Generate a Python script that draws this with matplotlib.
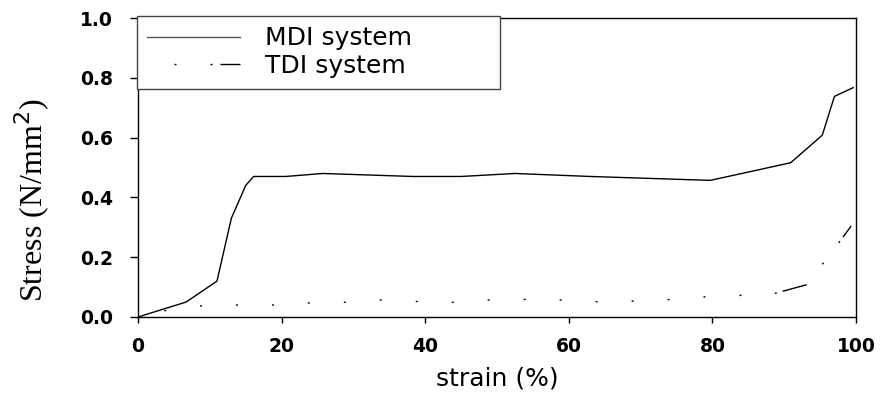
import matplotlib
matplotlib.use("Agg")
import matplotlib.pyplot as plt
from matplotlib.lines import Line2D

plt.rcParams['lines.scale_dashes'] = False

# ---- data ----
mdi_strain = [0, 6.7, 11, 13, 14, 15, 16.1, 20.6, 25.7, 38.3, 45, 52.5, 63, 79.7, 86, 90.9, 95.3, 97.0, 99.6]
mdi_stress = [0, 0.05, 0.12, 0.33, 0.385, 0.44, 0.47, 0.47, 0.48, 0.47, 0.47, 0.48, 0.47, 0.457, 0.49, 0.516, 0.608, 0.738, 0.767]

tdi_strain = [0, 3.7, 8.6, 13.6, 18.7, 23.7, 28.7, 33.7, 38.7, 43.7, 48.7, 53.7, 58.7, 63.7,
              68.7, 73.7, 78.7, 83.7, 88.7, 93.3, 95.4, 97.7, 99.5]
tdi_stress = [0, 0.021, 0.037, 0.040, 0.040, 0.047, 0.049, 0.057, 0.052, 0.049, 0.057, 0.059, 0.057, 0.051,
              0.053, 0.058, 0.067, 0.072, 0.079, 0.109, 0.179, 0.251, 0.31]

series_labels = ["MDI system", "TDI system"]
x_ticks = [0, 20, 40, 60, 80, 100]
y_ticks = [0.0, 0.2, 0.4, 0.6, 0.8, 1.0]

# ---- styles (dash lengths in pixels, converted to points) ----
PX = 0.72
dot_style = (9 * PX, [2 * PX, 34 * PX])                       # gap 27, dot, gap 34 ...
end_seq_px = [2, 6, 25, 26, 2, 25, 2, 5, 14, 40]
end_style = (0, [v * PX for v in end_seq_px])
leg_seq_px = [2, 34, 2, 8, 30, 27]
leg_style = ((sum(leg_seq_px) - 27) * PX, [v * PX for v in leg_seq_px])
split = 18  # the TDI curve changes dash rhythm after this point

fig = plt.figure(figsize=(8.85, 3.94), dpi=100)
ax = fig.add_axes([138/885, 1-317/394, 718/885, 299/394])

ax.plot(mdi_strain, mdi_stress, color='black', lw=1.0)
ax.plot(tdi_strain[:split + 1], tdi_stress[:split + 1], color='black', lw=1.0, linestyle=dot_style)
ax.plot(tdi_strain[split:], tdi_stress[split:], color='black', lw=1.0, linestyle=end_style)

ax.set_xlim(0, 100)
ax.set_ylim(0, 1.0)
ax.set_xticks(x_ticks)
ax.set_yticks(y_ticks)
ax.set_xticklabels([str(v) for v in x_ticks])
ax.set_yticklabels([f"{v:.1f}" for v in y_ticks])
ax.tick_params(axis='y', direction='out', length=5.8, width=1.0, pad=12)
ax.tick_params(axis='x', direction='out', length=4.3, width=1.0, pad=10)
for lab in ax.get_xticklabels() + ax.get_yticklabels():
    lab.set_fontfamily('DejaVu Sans')
    lab.set_fontweight('bold')
    lab.set_fontsize(13.5)
for s in ax.spines.values():
    s.set_linewidth(1.0)
    s.set_color('black')

ax.set_xlabel("strain (%)", fontfamily='DejaVu Sans', fontsize=18, labelpad=8)
ax.set_ylabel("Stress (N/mm$^2$)", fontfamily='Liberation Serif', fontsize=23)
ax.yaxis.set_label_coords(-0.147, 0.39)
ax.yaxis.label.set_va('center')

handles = [Line2D([], [], color='#555555', lw=1.0),
           Line2D([], [], color='black', lw=1.0, linestyle=leg_style)]
leg = ax.legend(handles, series_labels, loc='upper left',
                bbox_to_anchor=(-0.002, 1.0067, 0.5056, 0.0), mode='expand',
                borderaxespad=0, fancybox=False, frameon=True, framealpha=1,
                edgecolor='#444444', prop={'family': 'DejaVu Sans', 'size': 18},
                handlelength=3.7, handletextpad=1.0, labelspacing=0.15, borderpad=0.42)
leg.get_frame().set_linewidth(1.0)

fig.savefig("out.png", dpi=100)
